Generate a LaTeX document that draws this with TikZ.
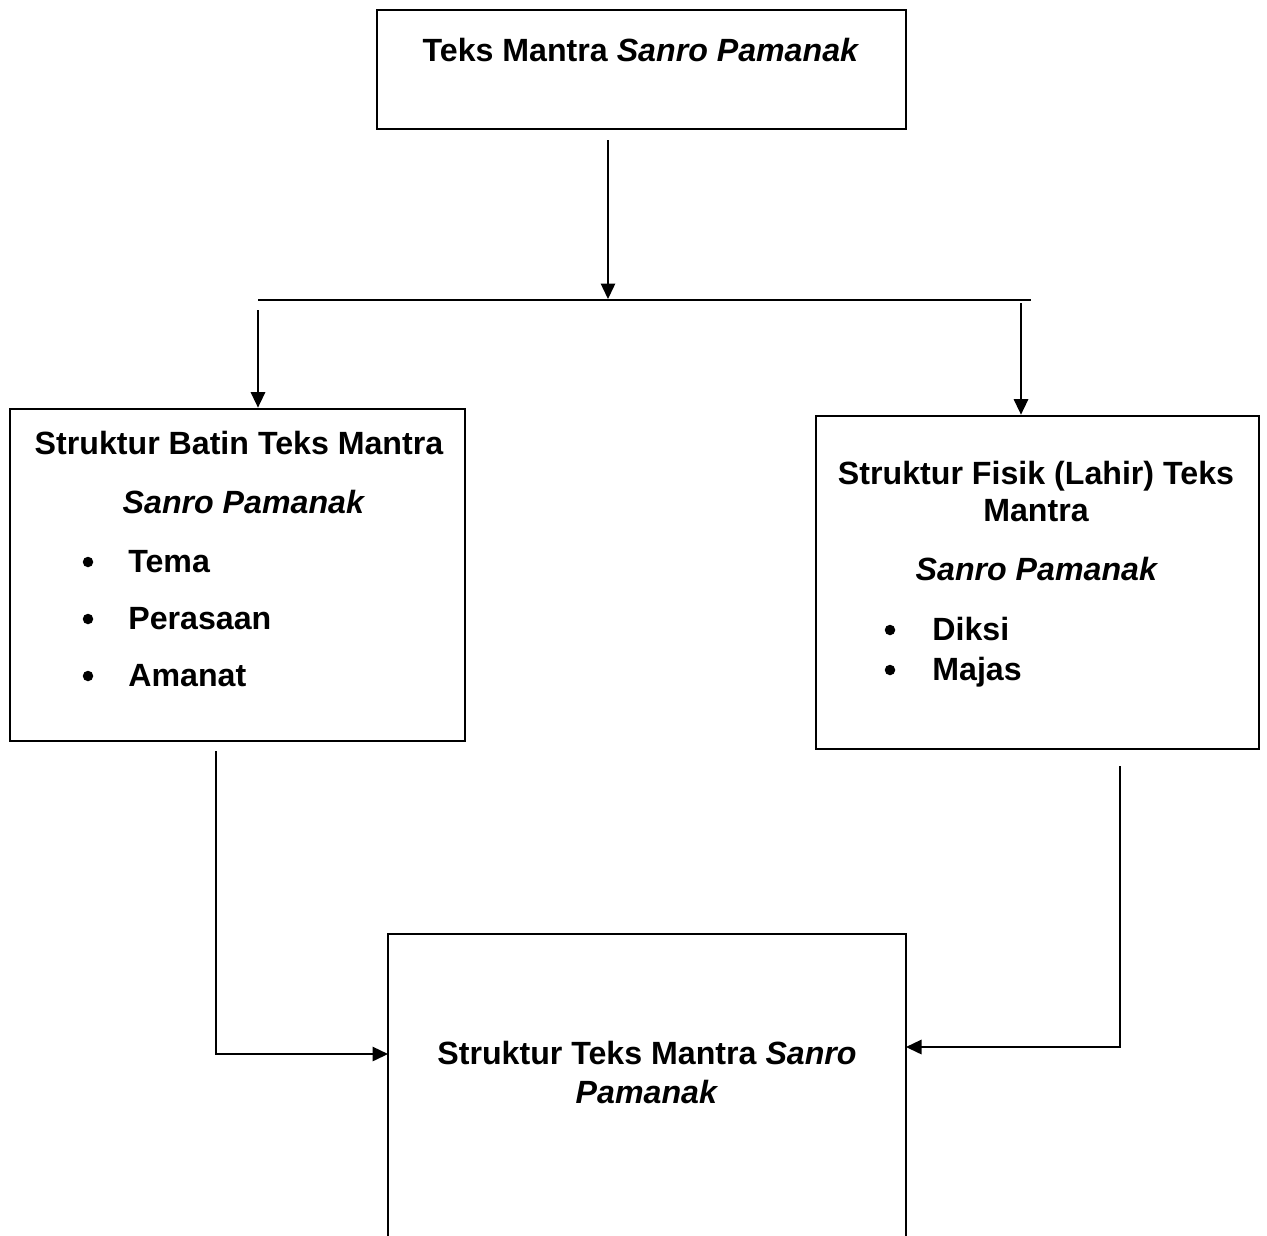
\documentclass[tikz,border=0pt]{standalone}
\usepackage{fontspec}
\setmainfont{Liberation Sans}
\usetikzlibrary{arrows.meta}
\begin{document}
\begin{tikzpicture}[x=0.02cm,y=-0.02cm,>={Triangle[length=0.31cm,width=0.29cm]},
    box/.style={draw,line width=1.6pt,inner sep=0pt},
    txt/.style={anchor=base,inner sep=0pt,font=\fontsize{18.3}{22}\selectfont\bfseries},
    dot/.style={circle,fill,inner sep=0pt,minimum size=0.21cm},
    link/.style={line width=0.8pt}]
                \useasboundingbox (0,0) rectangle (1267,1235);
                \clip (0,0) rectangle (1267,1235);
                % kotak
                \node[box,minimum width=10.58cm,minimum height=2.38cm] (teks) at (641.5,69.5) {};
                \node[box,minimum width=9.1cm,minimum height=6.64cm] (batin) at (237.5,575) {};
                \node[box,minimum width=8.86cm,minimum height=6.66cm] (fisik) at (1037.5,582.5) {};
                \node[box,minimum width=10.36cm,minimum height=8cm] (hasil) at (647,1134) {};
                % teks
                \node[txt] (judul) at (641,61) {Teks Mantra \textit{Sanro Pamanak}};
                \node[txt] (batin1) at (239,454) {Struktur Batin Teks Mantra};
                \node[txt] (batin2) at (244,513) {\textit{Sanro Pamanak}};
                \foreach \y/\w in {572/Tema,629/Perasaan,686/Amanat} {
                    \node[dot] (dot-\w) at (88,\y-10) {};
                    \node[txt,anchor=base west] (item-\w) at (128,\y) {\w};
                }
                \node[txt] (fisik1) at (1036,484) {Struktur Fisik (Lahir) Teks};
                \node[txt] (fisik2) at (1036,521) {Mantra};
                \node[txt] (fisik3) at (1037,580) {\textit{Sanro Pamanak}};
                \foreach \y/\w in {640/Diksi,680/Majas} {
                    \node[dot] (dot-\w) at (890,\y-10) {};
                    \node[txt,anchor=base west] (item-\w) at (932,\y) {\w};
                }
                \node[txt] (hasil1) at (647,1064) {Struktur Teks Mantra \textit{Sanro}};
                \node[txt] (hasil2) at (647,1103) {\textit{Pamanak}};
                % garis
                \coordinate (t0) at (608,140);
                \coordinate (t1) at (608,299);
                \coordinate (hl) at (258,300);
                \coordinate (hr) at (1031,300);
                \coordinate (l0) at (258,310);
                \coordinate (r0) at (1021,303);
                \coordinate (b0) at (216,751);
                \coordinate (b1) at (388,1054);
                \coordinate (c0) at (1120,766);
                \coordinate (c1) at (906,1047);
                \draw[link,->] (t0) -- (t1);
                \draw[link] (hl) -- (hr);
                \draw[link,->] (l0) -- (l0 |- batin.north);
                \draw[link,->] (r0) -- (r0 |- fisik.north);
                \draw[link,->] (b0) |- (b1);
                \draw[link,->] (c0) |- (c1);
            \end{tikzpicture}
\end{document}
